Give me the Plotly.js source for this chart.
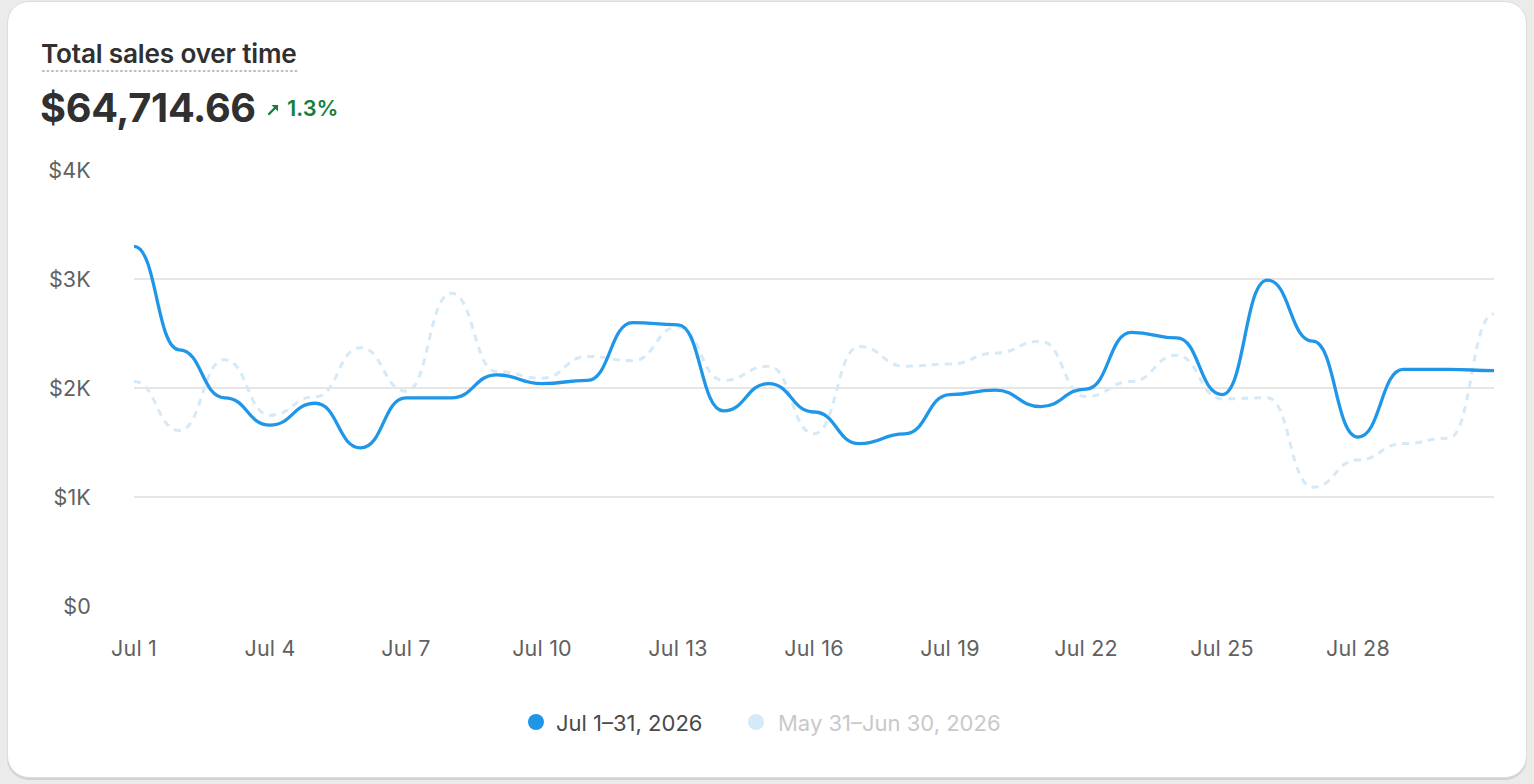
<!DOCTYPE html>
<html>
<head>
<meta charset="utf-8">
<script src="https://cdn.plot.ly/plotly-3.0.1.min.js"></script>
<style>
  html, body { margin: 0; padding: 0; }
  body { width: 1534px; height: 784px; background: #ebebeb; position: relative; overflow: hidden; font-family: Inter, "Noto Sans", sans-serif; }
  #card { position: absolute; left: 7px; top: 1px; width: 1518px; height: 775px; background: #ffffff; border-radius: 22px; border: 1px solid #dcdcdc; box-shadow: 0 2px 0 #d2d2d2; }
  #chart { position: absolute; left: 0; top: 0; width: 1534px; height: 784px; }
  .title { position: absolute; left: 41px; top: 40.5px; font-size: 26.2px; line-height: 1; font-weight: 600; color: #303030; letter-spacing: -0.2px; white-space: nowrap; }
  .title-underline { position: absolute; left: 41px; top: 70px; width: 258px; height: 2px; background-image: radial-gradient(circle, #b8b8b8 1px, transparent 1.2px); background-size: 4.6px 2px; background-repeat: repeat-x; }
  .total { position: absolute; left: 40px; top: 89px; font-size: 39.7px; line-height: 1; font-weight: 700; color: #303030; letter-spacing: -0.3px; white-space: nowrap; }
  .delta { position: absolute; left: 267px; top: 98px; font-size: 21.8px; line-height: 1; font-weight: 600; color: #13803e; white-space: nowrap; }
  .delta svg { position: absolute; left: 0; top: 5px; }
  .delta span { position: absolute; left: 20px; top: 0; }
  .legend { position: absolute; top: 0; left: 0; font-size: 22px; white-space: nowrap; }
  .legend .dot { position: absolute; top: 714px; width: 16px; height: 16px; border-radius: 50%; }
  .legend .lbl { position: absolute; top: 712px; line-height: 1; }
  #chart .xtick text, #chart .ytick text { letter-spacing: 0.2px; }
</style>
</head>
<body>
<div id="card"></div>
<div id="chart"></div>
<div class="title">Total sales over time</div>
<div class="title-underline"></div>
<div class="total">$64,714.66</div>
<div class="delta"><svg width="13" height="13" viewBox="0 0 13 13"><path d="M2 11 L10 3" stroke="#13803e" stroke-width="2.4" stroke-linecap="round"/><path d="M4.5 2 L11 2 L11 8.5 Z" fill="#13803e"/></svg><span>1.3%</span></div>
<div class="legend" id="legend"></div>
<script>
// ---- data ----
const days = [1,2,3,4,5,6,7,8,9,10,11,12,13,14,15,16,17,18,19,20,21,22,23,24,25,26,27,28,29,30,31];
const currentSales = [3300,2350,1910,1660,1860,1450,1910,1910,2120,2040,2070,2600,2580,1790,2040,1780,1490,1580,1940,1980,1830,1990,2510,2460,1940,2990,2430,1550,2170,2170,2160];
const previousSales = [2060,1610,2260,1750,1920,2370,1970,2870,2150,2090,2290,2250,2560,2070,2200,1580,2380,2200,2220,2320,2430,1920,2060,2300,1900,1910,1090,1340,1490,1540,2680];
const xTickVals = [1,4,7,10,13,16,19,22,25,28];
const xTickText = ["Jul 1","Jul 4","Jul 7","Jul 10","Jul 13","Jul 16","Jul 19","Jul 22","Jul 25","Jul 28"];
const yTickVals = [0,1000,2000,3000,4000];
const yTickText = ["$0","$1K","$2K","$3K","$4K"];
const seriesNames = ["Jul 1–31, 2026", "May 31–Jun 30, 2026"];

const blue = "#1f96e8";
const lightBlue = "#d6e9f7";

// Smooth "bump" curve (horizontal tangent at each point) as a Plotly path in data coordinates
function bumpPath(xs, ys) {
  let p = "M" + xs[0] + "," + ys[0];
  for (let i = 1; i < xs.length; i++) {
    const mx = (xs[i - 1] + xs[i]) / 2;
    p += " C" + mx + "," + ys[i - 1] + " " + mx + "," + ys[i] + " " + xs[i] + "," + ys[i];
  }
  return p;
}

// Traces carry the series (drawn as bump curves through the same axes below)
const traces = [
  { x: days, y: previousSales, type: "scatter", mode: "none", name: seriesNames[1], hoverinfo: "skip" },
  { x: days, y: currentSales, type: "scatter", mode: "none", name: seriesNames[0], hoverinfo: "skip" }
];

const shapes = [
  { type: "path", xref: "x", yref: "y", path: bumpPath(days, previousSales), layer: "above",
    line: { color: lightBlue, width: 3, dash: "7px,6px" }, fillcolor: "rgba(0,0,0,0)" },
  { type: "path", xref: "x", yref: "y", path: bumpPath(days, currentSales), layer: "above",
    line: { color: blue, width: 3.3 }, fillcolor: "rgba(0,0,0,0)" }
];

const layout = {
  width: 1534, height: 784,
  margin: { l: 134, r: 40, t: 170, b: 178, pad: 0 },
  paper_bgcolor: "rgba(0,0,0,0)",
  plot_bgcolor: "rgba(0,0,0,0)",
  showlegend: false,
  shapes: shapes,
  font: { family: "Inter, 'Noto Sans', sans-serif", size: 21.5, color: "#616161" },
  xaxis: {
    range: [1, 31], tickvals: xTickVals, ticktext: xTickText,
    showgrid: false, zeroline: false, showline: false, ticks: "",
    ticklabelstandoff: 27, tickfont: { size: 21.5, color: "#616161" }, fixedrange: true
  },
  yaxis: {
    range: [0, 4000], tickvals: yTickVals, ticktext: yTickText,
    showgrid: true, gridcolor: "#e6e6e6", gridwidth: 1.5, zeroline: false, showline: false, ticks: "",
    ticklabelstandoff: 42, tickfont: { size: 21.5, color: "#616161" }, fixedrange: true
  }
};

Plotly.newPlot("chart", traces, layout, { displayModeBar: false, staticPlot: true });

// legend (HTML)
const legend = document.getElementById("legend");
const legendItems = [
  { name: seriesNames[0], dot: blue, text: "#4a4a4a", dotX: 528, textX: 556 },
  { name: seriesNames[1], dot: lightBlue, text: "#c9c9c9", dotX: 748, textX: 778 }
];
legendItems.forEach(it => {
  const d = document.createElement("div"); d.className = "dot"; d.style.left = it.dotX + "px"; d.style.background = it.dot;
  const t = document.createElement("div"); t.className = "lbl"; t.style.left = it.textX + "px"; t.style.color = it.text; t.textContent = it.name;
  legend.appendChild(d); legend.appendChild(t);
});
</script>
</body>
</html>
